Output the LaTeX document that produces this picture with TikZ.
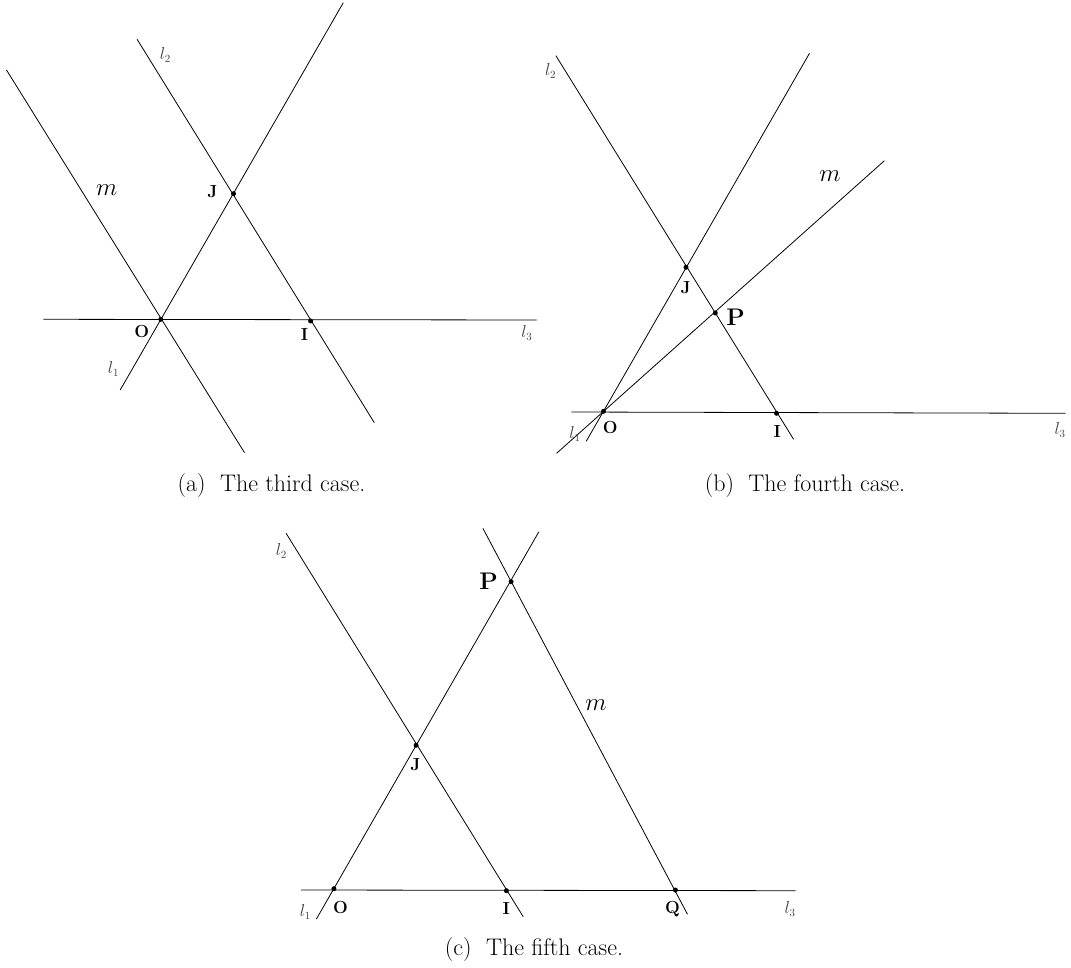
\documentclass[tikz,border=0pt]{standalone}
\begin{document}
\begin{tikzpicture}[x=1pt,y=-1pt,
  ln/.style={line width=0.8pt},
  dot/.style={circle,fill,inner sep=0pt,minimum size=5pt},
  ptlab/.style={font=\fontsize{17.5}{20}\selectfont\bfseries, inner sep=0pt},
  bigptlab/.style={font=\fontsize{24}{28}\selectfont\bfseries, inner sep=0pt},
  llab/.style={font=\fontsize{16}{18}\selectfont, text=black!75, inner sep=0pt},
  mlab/.style={font=\fontsize{24}{28}\selectfont, inner sep=0pt},
  caplab/.style={font=\fontsize{24}{28}\selectfont, inner sep=0pt}]
\useasboundingbox (0,0) rectangle (1071,968);

% ---------- (a) ----------
\coordinate (aO) at (160.8,319.3);
\coordinate (aI) at (310.6,321);
\coordinate (aJ) at (233.5,193.7);
\coordinate (al1s) at (120.2,390);   \coordinate (al1e) at (343.3,2.7);
\coordinate (al2s) at (137.1,39.3);  \coordinate (al2e) at (374.3,422.7);
\coordinate (ams)  at (6.5,70);      \coordinate (ame)  at (244.5,452.7);
\coordinate (al3s) at (43.4,319.3);  \coordinate (al3e) at (536.5,320);
\draw[ln] (al1s) -- (al1e);
\draw[ln] (al2s) -- (al2e);
\draw[ln] (ams) -- (ame);
\draw[ln] (al3s) -- (al3e);
\node[dot] (aOd) at (aO) {};
\node[dot] (aId) at (aI) {};
\node[dot] (aJd) at (aJ) {};
\node[llab] (al2t) at (165.3,55) {$l_2$};
\node[mlab] (amt) at (106.7,190) {$m$};
\node[ptlab] (aJt) at (212.5,191.5) {J};
\node[ptlab] (aOt) at (141.7,331) {O};
\node[ptlab] (aIt) at (304.5,334) {I};
\node[llab] (al3t) at (526.9,333) {$l_3$};
\node[llab] (al1t) at (113.5,369) {$l_1$};
\node[caplab] (acap) at (271.5,485.5) {(a)\hspace{0.6em}The third case.};

% ---------- (b) ----------
\coordinate (bO) at (603.5,411.3);
\coordinate (bI) at (776.5,413.3);
\coordinate (bJ) at (686,267.3);
\coordinate (bP) at (715.3,313);
\coordinate (bl1s) at (586.2,441.3); \coordinate (bl1e) at (809.5,53.3);
\coordinate (bl2s) at (555.9,55.7);  \coordinate (bl2e) at (793.6,439.3);
\coordinate (bms)  at (556.6,453.3); \coordinate (bme)  at (884.4,160.7);
\coordinate (bl3s) at (571.4,412);   \coordinate (bl3e) at (1065.5,413.3);
\draw[ln] (bl1s) -- (bl1e);
\draw[ln] (bl2s) -- (bl2e);
\draw[ln] (bms) -- (bme);
\draw[ln] (bl3s) -- (bl3e);
\node[dot] (bOd) at (bO) {};
\node[dot] (bId) at (bI) {};
\node[dot] (bJd) at (bJ) {};
\node[dot] (bPd) at (bP) {};
\node[llab] (bl2t) at (550.7,71) {$l_2$};
\node[mlab] (bmt) at (829.9,176) {$m$};
\node[ptlab] (bJt) at (685.6,287.5) {J};
\node[bigptlab] (bPt) at (735.5,317.6) {P};
\node[ptlab] (bOt) at (610.2,427.8) {O};
\node[ptlab] (bIt) at (777.2,431) {I};
\node[llab] (bl1t) at (575,434) {$l_1$};
\node[llab] (bl3t) at (1060,430) {$l_3$};
\node[caplab] (bcap) at (805,485.5) {(b)\hspace{0.6em}The fourth case.};

% ---------- (c) ----------
\coordinate (cO) at (333.9,888.7);
\coordinate (cI) at (506.4,890.7);
\coordinate (cQ) at (675.4,890);
\coordinate (cJ) at (416.1,745.3);
\coordinate (cP) at (511.1,581.7);
\coordinate (cl1s) at (316.4,919);   \coordinate (cl1e) at (538.9,531.7);
\coordinate (cl2s) at (286.1,533.3); \coordinate (cl2e) at (523.2,916.7);
\coordinate (cms)  at (482.9,528.3); \coordinate (cme)  at (687.5,914.3);
\coordinate (cl3s) at (301.1,890);   \coordinate (cl3e) at (795.7,890.7);
\draw[ln] (cl1s) -- (cl1e);
\draw[ln] (cl2s) -- (cl2e);
\draw[ln] (cms) -- (cme);
\draw[ln] (cl3s) -- (cl3e);
\node[dot] (cOd) at (cO) {};
\node[dot] (cId) at (cI) {};
\node[dot] (cQd) at (cQ) {};
\node[dot] (cJd) at (cJ) {};
\node[dot] (cPd) at (cP) {};
\node[llab] (cl2t) at (281.4,551) {$l_2$};
\node[bigptlab] (cPt) at (488.6,581.7) {P};
\node[mlab] (cmt) at (596,705.2) {$m$};
\node[ptlab] (cJt) at (415.4,765) {J};
\node[ptlab] (cOt) at (340.4,907.5) {O};
\node[ptlab] (cIt) at (506.4,908.3) {I};
\node[ptlab] (cQt) at (672.5,909) {Q};
\node[llab] (cl1t) at (305.4,912) {$l_1$};
\node[llab] (cl3t) at (790,909) {$l_3$};
\node[caplab] (ccap) at (534,950) {(c)\hspace{0.6em}The fifth case.};
\end{tikzpicture}
\end{document}
